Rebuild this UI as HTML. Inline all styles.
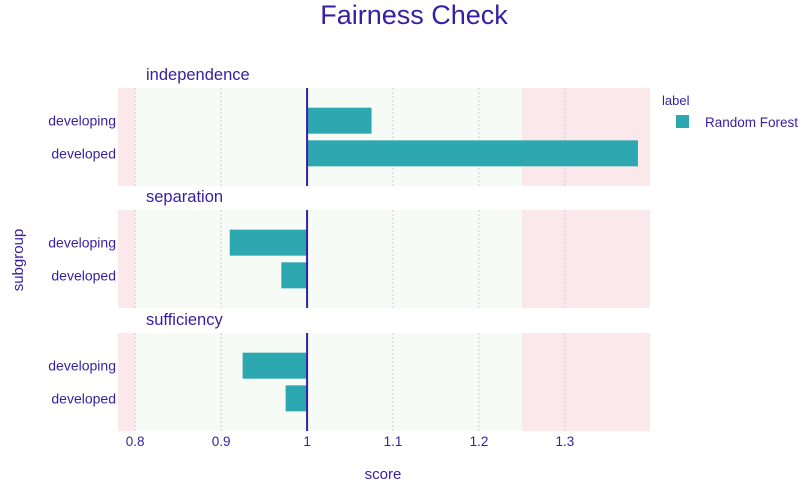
<!DOCTYPE html>
<html><head><meta charset="utf-8"><style>
body{margin:0;background:#fff}
svg text{font-family:"Liberation Sans","DejaVu Sans",sans-serif;fill:#371ea3}
</style></head><body>
<svg id="c" width="810" height="488" xmlns="http://www.w3.org/2000/svg">
<text x="414" y="24" font-size="27" text-anchor="middle">Fairness Check</text>
<text x="383" y="479" font-size="15" text-anchor="middle">score</text>
<text x="23" y="260" font-size="15" text-anchor="middle" transform="rotate(-90 23 260)">subgroup</text>
<text x="662" y="105" font-size="13">label</text>
<rect x="676" y="115" width="13" height="13" fill="#2ea8b0"/>
<text x="705" y="127" font-size="13.5">Random Forest</text>
<g id="plots"></g>
</svg>
<script>
const metrics = ["independence","separation","sufficiency"];
const subgroups = ["developing","developed"];
const rfValues = [[1.075,1.385],[0.91,0.97],[0.925,0.975]];
const xTicks = [0.8,0.9,1,1.1,1.2,1.3];
const xTickLabels = ["0.8","0.9","1","1.1","1.2","1.3"];
const lowBound = 0.8, highBound = 1.25;
const xMin = 0.78, xMax = 1.399;
const L=118,R=650;
const panelTops=[88,210,333], panelH=98;
function x(v){return L+(v-xMin)/(xMax-xMin)*(R-L);}
const NS="http://www.w3.org/2000/svg";
const g=document.getElementById('plots');
function mk(t,a,p){const e=document.createElementNS(NS,t);for(const k in a)e.setAttribute(k,a[k]);(p||g).appendChild(e);return e;}
metrics.forEach((m,pi)=>{
  const top=panelTops[pi];
  const r1=mk('rect',{x:L,y:top,width:x(lowBound)-L,height:panelH,fill:'#fbe8ea'});
  
  
  const r2=mk('rect',{x:x(lowBound),y:top,width:x(highBound)-x(lowBound),height:panelH,fill:'#f6fbf5'});
  
  
  const r3=mk('rect',{x:x(highBound),y:top,width:R-x(highBound),height:panelH,fill:'#fbe8ea'});
  
  
  xTicks.forEach(t=>{
    const gl=mk('line',{x1:x(t),x2:x(t),y1:top,y2:top+panelH,stroke:'#cfc8ee','stroke-width':1,'stroke-dasharray':'2,2'});
    
    
  });
  const tt=mk('text',{x:146,y:top-8,'font-size':16.5});
  tt.textContent=m;
  
  
  const band=panelH/3;
  subgroups.forEach((s,si)=>{
    const cy=top+panelH/2+(si===0?-band/2:band/2);
    const v=rfValues[pi][si];
    const bh=26;
    const b=mk('rect',{x:Math.min(x(1),x(v)),y:cy-bh/2,width:Math.abs(x(v)-x(1)),height:bh,fill:'#2ea8b0'});
    
    
    const lb=mk('text',{x:116,y:cy+5,'font-size':14,'text-anchor':'end'});
    lb.textContent=s;
    
    
  });
  const ref=mk('line',{x1:x(1),x2:x(1),y1:top,y2:top+panelH,stroke:'#371ea3','stroke-width':2});
  
  
});
xTicks.forEach((t,i)=>{
  const tl=mk('text',{x:x(t),y:446,'font-size':13.5,'text-anchor':'middle'});
  tl.textContent=xTickLabels[i];
  
  
});
</script>
</body></html>
